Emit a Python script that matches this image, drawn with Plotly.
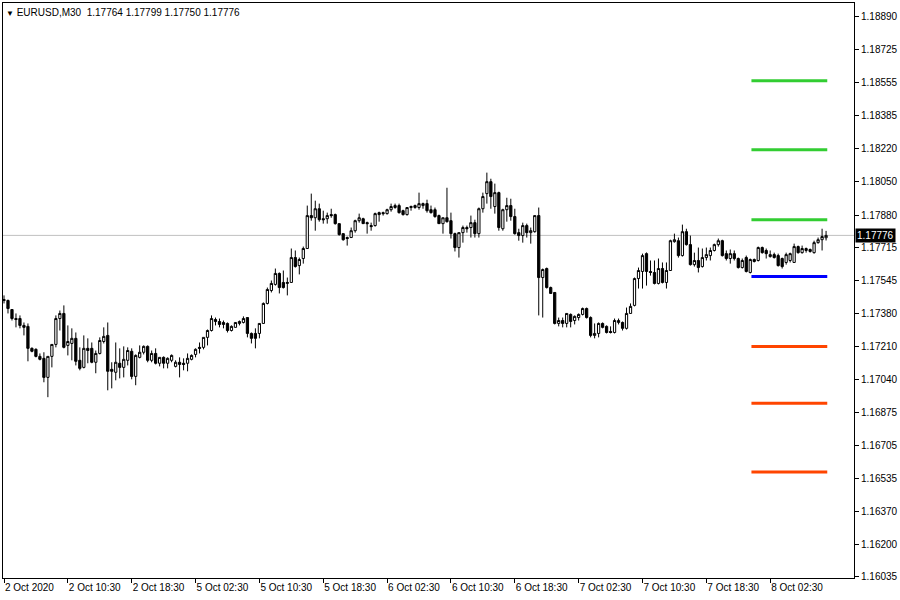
import plotly.graph_objects as go

# ---------------- data (EURUSD M30) ----------------
opens = [
1.17449,1.17444,1.17398,1.17352,1.17352,1.17317,1.17312,1.17200,1.17195,1.17159,
1.17149,1.17052,1.17159,1.17220,1.17352,1.17378,1.17215,1.17225,1.17251,1.17139,
1.17103,1.17200,1.17200,1.17129,1.17174,1.17235,1.17266,1.17093,1.17078,1.17124,
1.17103,1.17139,1.17185,1.17057,1.17154,1.17180,1.17210,1.17139,1.17174,1.17124,
1.17154,1.17124,1.17139,1.17108,1.17129,1.17124,1.17124,1.17144,1.17169,1.17205,
1.17205,1.17256,1.17291,1.17347,1.17337,1.17332,1.17327,1.17291,1.17307,1.17327,
1.17332,1.17357,1.17276,1.17276,1.17276,1.17327,1.17429,1.17495,1.17526,1.17582,
1.17536,1.17531,1.17536,1.17663,1.17622,1.17658,1.17709,1.17877,1.17866,1.17912,
1.17861,1.17861,1.17882,1.17882,1.17836,1.17785,1.17765,1.17765,1.17800,1.17851,
1.17861,1.17841,1.17826,1.17826,1.17892,1.17892,1.17887,1.17907,1.17918,1.17928,
1.17902,1.17882,1.17918,1.17918,1.17918,1.17928,1.17938,1.17907,1.17907,1.17877,
1.17836,1.17866,1.17851,1.17785,1.17714,1.17790,1.17816,1.17816,1.17841,1.17785,
1.17912,1.17989,1.18050,1.17923,1.17994,1.17810,1.17907,1.17928,1.17872,1.17790,
1.17775,1.17826,1.17790,1.17795,1.17877,1.17561,1.17607,1.17510,1.17485,1.17327,
1.17342,1.17327,1.17373,1.17342,1.17357,1.17373,1.17403,1.17357,1.17266,1.17276,
1.17327,1.17312,1.17286,1.17281,1.17332,1.17332,1.17302,1.17378,1.17419,1.17556,
1.17592,1.17683,1.17592,1.17587,1.17531,1.17607,1.17536,1.17597,1.17744,1.17749,
1.17673,1.17795,1.17729,1.17627,1.17648,1.17617,1.17663,1.17673,1.17699,1.17729,
1.17749,1.17683,1.17658,1.17683,1.17658,1.17612,1.17663,1.17587,1.17653,1.17648,
1.17714,1.17699,1.17668,1.17678,1.17673,1.17658,1.17638,1.17648,1.17638,1.17719,
1.17688,1.17699,1.17704,1.17688,1.17739,1.17754,1.17764]
highs = [
1.17470,1.17449,1.17398,1.17378,1.17368,1.17332,1.17327,1.17205,1.17200,1.17174,
1.17180,1.17159,1.17220,1.17368,1.17393,1.17419,1.17317,1.17302,1.17281,1.17205,
1.17266,1.17251,1.17230,1.17189,1.17256,1.17307,1.17332,1.17129,1.17230,1.17200,
1.17210,1.17205,1.17200,1.17169,1.17215,1.17215,1.17215,1.17189,1.17200,1.17154,
1.17159,1.17154,1.17169,1.17139,1.17154,1.17149,1.17174,1.17169,1.17200,1.17230,
1.17256,1.17296,1.17368,1.17357,1.17352,1.17342,1.17332,1.17317,1.17332,1.17342,
1.17363,1.17357,1.17281,1.17302,1.17327,1.17434,1.17510,1.17546,1.17607,1.17587,
1.17597,1.17561,1.17709,1.17699,1.17663,1.17719,1.17928,1.17989,1.17953,1.17938,
1.17902,1.17892,1.17912,1.17887,1.17836,1.17785,1.17770,1.17816,1.17856,1.17887,
1.17866,1.17846,1.17841,1.17892,1.17897,1.17897,1.17912,1.17938,1.17938,1.17938,
1.17907,1.17918,1.17928,1.17933,1.17994,1.17943,1.17958,1.17928,1.17918,1.17882,
1.17866,1.18019,1.17892,1.17790,1.17790,1.17826,1.17826,1.17877,1.17856,1.17918,
1.17994,1.18096,1.18065,1.18040,1.17999,1.17912,1.17968,1.17963,1.17912,1.17810,
1.17841,1.17836,1.17816,1.17877,1.17918,1.17607,1.17612,1.17515,1.17485,1.17357,
1.17357,1.17378,1.17378,1.17368,1.17378,1.17408,1.17408,1.17363,1.17327,1.17332,
1.17332,1.17317,1.17312,1.17352,1.17352,1.17337,1.17408,1.17429,1.17561,1.17612,
1.17683,1.17689,1.17648,1.17648,1.17658,1.17638,1.17638,1.17754,1.17785,1.17765,
1.17831,1.17810,1.17775,1.17688,1.17714,1.17709,1.17714,1.17714,1.17734,1.17760,
1.17754,1.17699,1.17704,1.17699,1.17663,1.17658,1.17673,1.17658,1.17658,1.17719,
1.17719,1.17709,1.17699,1.17688,1.17683,1.17663,1.17688,1.17688,1.17734,1.17724,
1.17724,1.17714,1.17709,1.17749,1.17765,1.17810,1.17799]
lows = [
1.17429,1.17378,1.17342,1.17307,1.17302,1.17266,1.17134,1.17180,1.17154,1.17139,
1.17027,1.16951,1.17103,1.17205,1.17291,1.17200,1.17164,1.17139,1.17113,1.17088,
1.17098,1.17124,1.17124,1.17073,1.17169,1.17225,1.16986,1.16996,1.17037,1.17047,
1.17052,1.17113,1.17042,1.17012,1.17149,1.17169,1.17129,1.17129,1.17118,1.17108,
1.17098,1.17098,1.17129,1.17103,1.17052,1.17088,1.17083,1.17139,1.17154,1.17174,
1.17195,1.17215,1.17286,1.17317,1.17307,1.17302,1.17281,1.17286,1.17307,1.17317,
1.17327,1.17256,1.17225,1.17200,1.17251,1.17327,1.17424,1.17485,1.17520,1.17480,
1.17505,1.17470,1.17536,1.17612,1.17577,1.17632,1.17709,1.17851,1.17800,1.17846,
1.17836,1.17836,1.17866,1.17831,1.17775,1.17749,1.17724,1.17765,1.17790,1.17841,
1.17836,1.17785,1.17800,1.17821,1.17846,1.17877,1.17882,1.17897,1.17912,1.17887,
1.17877,1.17877,1.17902,1.17912,1.17907,1.17912,1.17892,1.17887,1.17866,1.17836,
1.17785,1.17841,1.17760,1.17694,1.17663,1.17739,1.17790,1.17765,1.17765,1.17765,
1.17892,1.17938,1.17912,1.17887,1.17800,1.17800,1.17846,1.17851,1.17780,1.17749,
1.17739,1.17765,1.17734,1.17790,1.17368,1.17357,1.17505,1.17480,1.17322,1.17312,
1.17307,1.17307,1.17307,1.17322,1.17342,1.17368,1.17352,1.17256,1.17251,1.17256,
1.17302,1.17276,1.17276,1.17276,1.17322,1.17291,1.17296,1.17378,1.17414,1.17505,
1.17505,1.17520,1.17571,1.17526,1.17526,1.17531,1.17505,1.17597,1.17739,1.17663,
1.17668,1.17724,1.17622,1.17617,1.17587,1.17612,1.17648,1.17648,1.17694,1.17719,
1.17668,1.17648,1.17632,1.17648,1.17607,1.17607,1.17587,1.17582,1.17638,1.17643,
1.17683,1.17658,1.17663,1.17658,1.17617,1.17607,1.17627,1.17638,1.17638,1.17683,
1.17683,1.17688,1.17688,1.17683,1.17734,1.17699,1.17750]
closes = [
1.17444,1.17403,1.17352,1.17347,1.17317,1.17307,1.17200,1.17185,1.17159,1.17144,
1.17052,1.17159,1.17220,1.17352,1.17378,1.17205,1.17235,1.17251,1.17134,1.17098,
1.17200,1.17189,1.17129,1.17174,1.17240,1.17261,1.17083,1.17083,1.17129,1.17103,
1.17144,1.17189,1.17057,1.17164,1.17180,1.17210,1.17139,1.17174,1.17124,1.17154,
1.17124,1.17149,1.17164,1.17129,1.17118,1.17118,1.17149,1.17164,1.17195,1.17200,
1.17256,1.17291,1.17352,1.17337,1.17322,1.17322,1.17291,1.17312,1.17332,1.17337,
1.17352,1.17276,1.17251,1.17251,1.17327,1.17429,1.17500,1.17531,1.17582,1.17510,
1.17510,1.17536,1.17663,1.17617,1.17653,1.17709,1.17877,1.17866,1.17912,1.17856,
1.17856,1.17877,1.17877,1.17836,1.17780,1.17754,1.17760,1.17800,1.17851,1.17866,
1.17836,1.17836,1.17821,1.17887,1.17882,1.17887,1.17907,1.17923,1.17928,1.17892,
1.17882,1.17918,1.17923,1.17928,1.17938,1.17938,1.17902,1.17892,1.17872,1.17836,
1.17866,1.17846,1.17785,1.17714,1.17790,1.17816,1.17810,1.17841,1.17785,1.17912,
1.17974,1.18050,1.17974,1.17994,1.17816,1.17907,1.17928,1.17872,1.17785,1.17775,
1.17826,1.17790,1.17800,1.17877,1.17561,1.17602,1.17510,1.17480,1.17327,1.17342,
1.17327,1.17378,1.17337,1.17363,1.17373,1.17403,1.17357,1.17266,1.17276,1.17327,
1.17307,1.17281,1.17281,1.17342,1.17342,1.17302,1.17378,1.17414,1.17556,1.17597,
1.17673,1.17592,1.17587,1.17531,1.17607,1.17536,1.17597,1.17749,1.17754,1.17673,
1.17795,1.17729,1.17627,1.17648,1.17612,1.17663,1.17678,1.17699,1.17729,1.17749,
1.17673,1.17658,1.17683,1.17658,1.17612,1.17648,1.17592,1.17653,1.17643,1.17714,
1.17688,1.17683,1.17678,1.17663,1.17622,1.17617,1.17678,1.17683,1.17719,1.17688,
1.17709,1.17709,1.17694,1.17739,1.17754,1.17770,1.17776]

time_tick_bars = [0, 16, 32, 48, 64, 80, 96, 112, 128, 144, 160, 176, 192]
time_tick_labels = ["2 Oct 2020", "2 Oct 10:30", "2 Oct 18:30", "5 Oct 02:30",
                    "5 Oct 10:30", "5 Oct 18:30", "6 Oct 02:30", "6 Oct 10:30",
                    "6 Oct 18:30", "7 Oct 02:30", "7 Oct 10:30", "7 Oct 18:30",
                    "8 Oct 02:30"]
price_ticks = [1.18890, 1.18725, 1.18555, 1.18385, 1.18220, 1.18050, 1.17880,
               1.17715, 1.17545, 1.17380, 1.17210, 1.17040, 1.16875, 1.16705,
               1.16535, 1.16370, 1.16200, 1.16035]
resistance_levels = [1.18564, 1.18213, 1.17856]
pivot_level = 1.17566
support_levels = [1.17210, 1.16920, 1.16569]
level_start_bar, level_end_bar = 187.3, 206.3
current_price = 1.17776
symbol_title = "EURUSD,M30"

# ---------------- figure ----------------
bars = list(range(len(closes)))
FONT = "Tahoma, Liberation Sans, Arial, sans-serif"

fig = go.Figure()
fig.add_trace(go.Candlestick(
    x=bars, open=opens, high=highs, low=lows, close=closes,
    increasing=dict(line=dict(color="black", width=1), fillcolor="white"),
    decreasing=dict(line=dict(color="black", width=1), fillcolor="black"),
    whiskerwidth=0, hoverinfo="skip", showlegend=False,
))

shapes = [dict(type="line", xref="paper", x0=0, x1=1, yref="y",
               y0=current_price, y1=current_price,
               line=dict(color="#C0C0C0", width=1), layer="below")]
for lv in resistance_levels:
    shapes.append(dict(type="line", xref="x", yref="y", x0=level_start_bar,
                       x1=level_end_bar, y0=lv, y1=lv,
                       line=dict(color="#32CD32", width=3)))
shapes.append(dict(type="line", xref="x", yref="y", x0=level_start_bar,
                   x1=level_end_bar, y0=pivot_level, y1=pivot_level,
                   line=dict(color="#0000FF", width=3)))
for lv in support_levels:
    shapes.append(dict(type="line", xref="x", yref="y", x0=level_start_bar,
                       x1=level_end_bar, y0=lv, y1=lv,
                       line=dict(color="#FF4500", width=3)))

o, h, l, c = opens[-1], highs[-1], lows[-1], closes[-1]
title_text = (f"<span style='font-size:8px'>▼</span>&nbsp;{symbol_title}&nbsp;&nbsp;"
              f"{o:.5f} {h:.5f} {l:.5f} {c:.5f}")

annotations = [
    dict(xref="paper", yref="paper", x=0, y=1, xanchor="left", yanchor="top",
         xshift=1, yshift=-2, text=title_text, showarrow=False,
         font=dict(family=FONT, size=10, color="black")),
    dict(xref="paper", yref="y", x=1, y=current_price, xanchor="left",
         yanchor="middle", xshift=1, text=f"{current_price:.5f}", showarrow=False,
         bgcolor="black", borderpad=1,
         font=dict(family=FONT, size=10, color="white")),
]

fig.update_layout(
    width=900, height=600,
    margin=dict(l=2, r=45, t=2, b=22),
    paper_bgcolor="white", plot_bgcolor="white",
    shapes=shapes, annotations=annotations,
    boxgap=0.2, hovermode=False,
    font=dict(family=FONT, size=10, color="black"),
)
fig.update_xaxes(
    range=[-0.25, 213], rangeslider=dict(visible=False),
    tickmode="array", tickvals=time_tick_bars, ticktext=time_tick_labels,
    ticks="outside", ticklen=4, tickcolor="black", ticklabelposition="outside right",
    showgrid=False, zeroline=False, showline=True, linecolor="black", linewidth=1,
    mirror=True, tickfont=dict(family=FONT, size=10, color="black"),
)
fig.update_yaxes(
    range=[1.16029, 1.18961], side="right",
    tickmode="array", tickvals=price_ticks, ticktext=[f"{v:.5f}" for v in price_ticks],
    ticks="outside", ticklen=4, tickcolor="black",
    showgrid=False, zeroline=False, showline=True, linecolor="black", linewidth=1,
    mirror=True, tickfont=dict(family=FONT, size=10, color="black"),
)

fig.write_html("out.html", config={"displayModeBar": False},
               post_script="document.body.style.margin='0';")
